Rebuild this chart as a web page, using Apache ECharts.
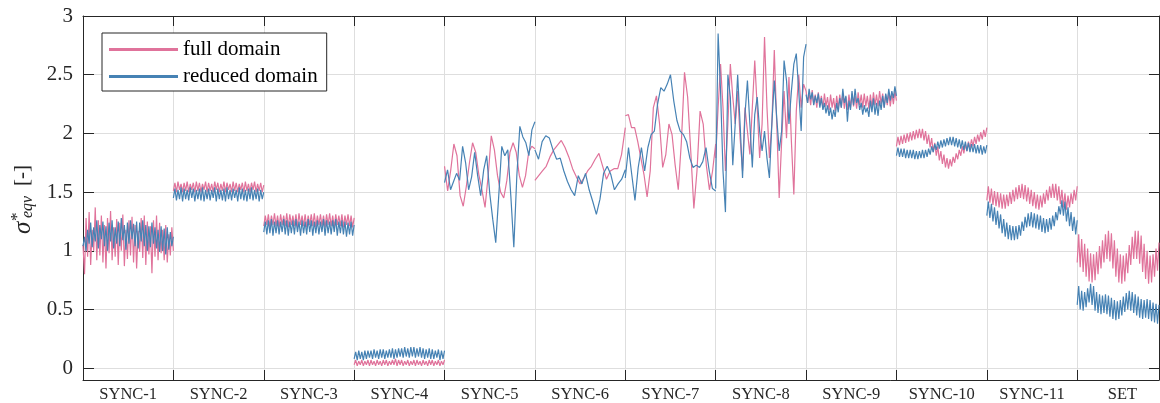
<!DOCTYPE html>
<html>
<head>
<meta charset="utf-8">
<title>sigma eqv - full vs reduced domain</title>
<script src="https://cdn.jsdelivr.net/npm/echarts@6/dist/echarts.min.js"></script>
<style>
  html, body { margin: 0; padding: 0; background: #fff; }
  #chart { width: 1160px; height: 403px; }
</style>
</head>
<body>
<div id="chart"></div>
<script>
// load cases along the x axis, one unit wide each (SET is cut off by the axis end)
const segments = ['SYNC-1', 'SYNC-2', 'SYNC-3', 'SYNC-4', 'SYNC-5', 'SYNC-6',
                  'SYNC-7', 'SYNC-8', 'SYNC-9', 'SYNC-10', 'SYNC-11', 'SET'];
const xEnd = 11.905;
const yTicks = [0, 0.5, 1, 1.5, 2, 2.5, 3];

// values, in hundredths
const full_sync1 = [105,80,128,95,133,88,118,100,137,92,126,96,130,90,122,85,128,98,134,92,120,95,127,88,124,100,131,87,118,93,126,96,129,90,122,85,117,99,128,94,130,88,125,97,121,81,126,95,130,92,124,98,118,92,122,90,114,96,120,100];
const red_sync1 = [104,112,100,118,106,124,103,120,108,126,102,122,110,125,104,121,100,124,108,126,102,120,106,125,104,128,109,122,101,124,106,126,110,123,104,125,102,124,108,126,104,122,100,121,103,124,106,120,102,118,99,121,100,119,97,120,101,116,104,112];

const full_sync2 = [151,158,150,159,152,157,150,158,151,159,150,157,152,158,150,159,151,158,150,157,152,159,150,158,151,157,150,159,152,158,150,157,151,159,150,158,152,157,150,159,151,158,150,157,152,158,150,159,151,157,150,158,152,159,150,157,151,158,150,156];
const red_sync2 = [145,153,143,152,144,154,142,153,144,152,143,154,145,153,142,152,144,153,143,154,142,152,144,153,143,152,145,154,142,153,144,152,143,153,142,154,144,152,143,153,145,152,142,154,144,153,143,152,142,153,144,154,143,152,144,153,142,152,144,150];

const full_sync3 = [121,130,122,131,120,130,122,132,121,130,120,131,122,130,121,132,120,131,122,130,121,131,120,132,122,130,121,131,120,130,122,131,121,132,120,130,122,131,121,130,120,131,122,132,121,130,120,131,122,130,121,131,120,130,122,131,121,130,120,128];
const red_sync3 = [116,125,114,126,115,127,113,125,115,126,114,125,116,127,114,126,113,125,115,126,114,127,116,125,113,126,115,125,114,127,116,126,113,125,115,126,114,125,116,127,113,126,115,125,114,126,116,127,113,125,115,126,114,125,112,124,114,125,113,122];

const full_sync4 = [3,7,2,6,3,7,2,6,3,7,2,7,3,6,2,7,3,6,2,7,3,7,2,6,3,7,3,8,2,7,3,7,2,6,3,7,2,6,3,7,2,7,3,6,2,7,3,6,2,7,3,7,2,6,3,7,2,6,3,7];
const red_sync4 = [8,14,7,15,8,14,7,15,8,15,9,15,8,16,9,15,8,16,9,16,8,15,9,16,9,17,8,16,9,17,10,17,9,18,10,17,9,18,10,18,9,17,10,18,9,17,8,16,9,17,8,16,8,15,9,16,7,15,8,15];

const full_sync5 = [172,151,169,191,181,147,138,155,175,192,184,165,152,137,164,198,186,164,150,145,160,184,192,184,164,154,164,184,189,187];
const red_sync5 = [158,169,152,159,166,160,189,175,152,163,184,164,147,169,181,149,127,107,147,189,181,186,147,103,164,206,197,192,181,203,210];

const full_sync6 = [160,164,168,172,180,186,190,194,188,180,170,163,157,162,168,172,178,183,172,161,168,170,170,182,205];
const red_sync6 = [186,178,193,198,196,186,178,179,168,159,152,147,164,157,166,152,142,131,144,166,172,165,152,157,161,169];

const full_sync7 = [215,216,205,205,193,179,165,146,168,222,232,208,171,182,208,199,173,152,193,252,231,185,136,168,219,208,173,152,168,191];
const red_sync7 = [162,188,165,143,171,188,168,188,199,202,225,239,236,242,250,228,211,202,199,193,179,171,173,171,176,188,168,153,151];

const full_sync8 = [179,222,259,222,168,208,259,231,208,236,196,168,222,202,182,222,262,222,179,208,282,222,179,208,271,208,145,193,236,196,248,193,148,219,250,222,242,236];
const red_sync8 = [153,285,236,168,133,250,231,173,208,250,208,162,216,245,208,171,216,231,202,185,202,179,162,208,245,213,185,202,262,245,208,236,259,268,236,202,265,276];

const full_sync9 = [236,226,234,224,237,225,233,222,235,224,232,221,234,223,231,220,233,222,230,219,232,221,233,222,234,221,231,220,233,222,234,223,232,221,235,224,233,222,234,223,232,221,233,222,235,224,233,223,236,225,234,222,233,224,235,223,234,225,236,228];
const red_sync9 = [233,226,238,229,235,224,232,226,234,222,230,220,226,217,224,215,222,212,220,214,226,218,230,222,238,226,232,210,228,220,236,224,238,226,230,220,226,216,224,218,222,214,228,218,230,216,226,215,228,220,232,222,234,226,238,228,236,230,240,232];

const full_sync10 = [189,197,190,198,191,199,192,200,193,201,194,202,195,203,196,204,196,204,194,202,191,199,188,196,184,192,181,189,177,185,174,182,171,179,170,178,172,180,175,183,178,186,181,189,183,191,185,193,187,195,189,197,191,199,193,201,195,203,197,205];
const red_sync10 = [181,188,180,187,180,187,179,186,179,186,179,186,178,185,178,185,179,186,179,186,180,187,182,189,184,191,186,193,187,194,188,195,189,196,190,197,190,197,189,196,188,195,187,194,186,193,185,192,184,191,184,191,183,190,183,190,182,189,183,190];

const full_sync11 = [143,155,141,153,139,151,138,150,137,149,136,148,136,148,138,150,140,152,142,154,144,156,145,157,144,156,142,154,140,152,138,150,136,148,135,147,137,149,140,152,143,155,145,157,145,157,143,155,140,152,137,149,135,147,137,149,140,152,143,155];
const red_sync11 = [130,142,128,140,125,137,122,134,119,131,115,127,112,124,110,122,109,121,109,121,110,122,113,125,117,129,120,132,121,133,120,132,119,131,118,130,116,128,115,127,116,128,118,130,121,133,126,138,131,143,130,142,125,137,121,133,117,129,114,126];

const full_set = [90,114,86,110,82,106,78,102,74,98,73,97,75,99,80,104,85,109,90,114,93,117,91,115,85,109,78,102,73,97,72,96,74,98,81,105,88,112,93,117,93,117,89,113,82,106,76,100,72,96,73,97,78,102,83,107];
const red_set = [54,70,50,66,49,65,52,68,56,72,54,70,49,65,47,63,46,62,47,63,46,62,44,60,42,58,41,57,42,58,45,61,48,64,50,66,49,65,47,63,45,61,43,59,42,58,43,59,42,58,40,56,39,55,38,54];

const fullDomain = [full_sync1, full_sync2, full_sync3, full_sync4, full_sync5, full_sync6,
                    full_sync7, full_sync8, full_sync9, full_sync10, full_sync11, full_set];
const reducedDomain = [red_sync1, red_sync2, red_sync3, red_sync4, red_sync5, red_sync6,
                       red_sync7, red_sync8, red_sync9, red_sync10, red_sync11, red_set];

const textColor = '#262626';
const serif = '"Liberation Serif", "Times New Roman", serif';

// spread each segment's samples over its unit and break the line between segments
function buildLine(parts) {
  const pts = [];
  parts.forEach((vals, k) => {
    const w = Math.min(1, xEnd - k);
    vals.forEach((v, i) => {
      pts.push([k + w * i / (vals.length - 1), v / 100]);
    });
    pts.push([k + w, null]);
  });
  return pts;
}

const boundaries = segments.slice(1).map((s, i) => i + 1);
const labelPos = segments.map((s, i) => i + 0.5);

// box axes: only ticks, no labels (top and right)
function boxAxis(pos, min, max, ticks) {
  return {
    type: 'value', min: min, max: max, position: pos,
    axisLine: { show: true, onZero: false, lineStyle: { color: textColor, width: 1 } },
    axisTick: { show: true, inside: true, length: 10, customValues: ticks,
                lineStyle: { color: textColor } },
    axisLabel: { show: false },
    splitLine: { show: false }
  };
}

const chart = echarts.init(document.getElementById('chart'));

chart.setOption({
  animation: false,
  backgroundColor: '#fff',
  grid: { left: 83, right: 1, top: 16, bottom: 23 },
  legend: {
    left: 102,
    top: 33,
    orient: 'vertical',
    data: ['full domain', 'reduced domain'],
    icon: 'rect',
    itemWidth: 69,
    itemHeight: 3,
    itemGap: 6,
    padding: [6, 9, 4, 7],
    borderColor: textColor,
    borderWidth: 1,
    backgroundColor: '#fff',
    textStyle: { fontFamily: serif, fontSize: 21, color: '#000', lineHeight: 20 }
  },
  xAxis: [
    {
      type: 'value', min: 0, max: xEnd, position: 'bottom',
      axisLine: { show: true, onZero: false, lineStyle: { color: textColor, width: 1 } },
      axisTick: { show: true, inside: true, length: 10, customValues: boundaries,
                  lineStyle: { color: textColor } },
      axisLabel: { show: true, customValues: labelPos, margin: 6,
                   formatter: v => segments[Math.floor(v)],
                   fontFamily: serif, fontSize: 16.5, color: textColor },
      splitLine: { show: true, lineStyle: { color: '#dedede', width: 1 } }
    },
    boxAxis('top', 0, xEnd, boundaries)
  ],
  yAxis: [
    {
      type: 'value', min: -0.1, max: 3, position: 'left',
      axisLine: { show: true, onZero: false, lineStyle: { color: textColor, width: 1 } },
      axisTick: { show: true, inside: true, length: 11, customValues: yTicks,
                  lineStyle: { color: textColor } },
      axisLabel: { show: true, customValues: yTicks, margin: 10,
                   formatter: v => String(v),
                   fontFamily: serif, fontSize: 21, color: textColor },
      splitLine: { show: true, lineStyle: { color: '#dedede', width: 1 } }
    },
    boxAxis('right', -0.1, 3, yTicks)
  ],
  // y axis title: sigma*_eqv [-], read bottom to top
  graphic: [
    {
      type: 'group', x: 31, y: 234, rotation: Math.PI / 2,
      children: [
        { type: 'text', x: 0, y: -8,
          style: { text: 'σ', font: 'italic 25px ' + serif, fill: textColor,
                   align: 'left', verticalAlign: 'middle' } },
        { type: 'text', x: 13, y: -13,
          style: { text: '*', font: '17px ' + serif, fill: textColor,
                   align: 'left', verticalAlign: 'middle' } },
        { type: 'text', x: 16, y: -3,
          style: { text: 'eqv', font: 'italic 16px ' + serif, fill: textColor,
                   align: 'left', verticalAlign: 'middle' } },
        { type: 'text', x: 48, y: -9,
          style: { text: '[-]', font: '21px ' + serif, fill: textColor,
                   align: 'left', verticalAlign: 'middle' } }
      ]
    }
  ],
  series: [
    {
      name: 'full domain', type: 'line', xAxisIndex: 0, yAxisIndex: 0,
      data: buildLine(fullDomain),
      showSymbol: false, symbol: 'none', connectNulls: false,
      color: '#e0739b',
      lineStyle: { color: '#e0739b', width: 1.2 }
    },
    {
      name: 'reduced domain', type: 'line', xAxisIndex: 0, yAxisIndex: 0,
      data: buildLine(reducedDomain),
      showSymbol: false, symbol: 'none', connectNulls: false,
      color: '#4682b4',
      lineStyle: { color: '#4682b4', width: 1.2 }
    }
  ]
});
</script>
</body>
</html>
